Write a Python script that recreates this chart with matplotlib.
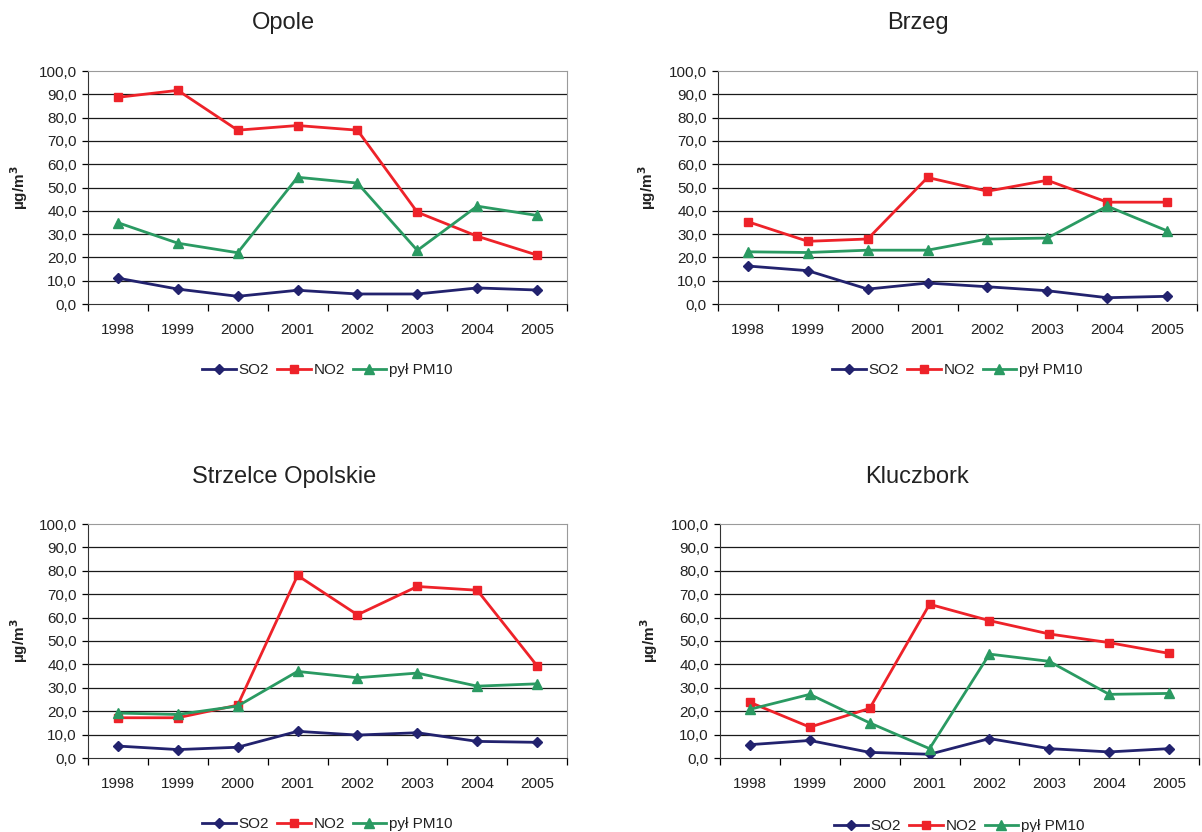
import numpy as np
import matplotlib
matplotlib.use("Agg")
import matplotlib.pyplot as plt
from matplotlib.ticker import FuncFormatter

plt.rcParams['font.family'] = ['Liberation Sans', 'DejaVu Sans']

years = ['1998', '1999', '2000', '2001', '2002', '2003', '2004', '2005']
series_names = ['SO2', 'NO2', 'pył PM10']

# Opole
opole_so2 = [11.1, 6.4, 3.3, 5.9, 4.3, 4.3, 6.9, 6.0]
opole_no2 = [88.7, 91.7, 74.6, 76.6, 74.6, 39.4, 29.1, 21.0]
opole_pm10 = [34.9, 26.1, 22.0, 54.4, 51.9, 23.0, 42.0, 38.0]

# Brzeg
brzeg_so2 = [16.3, 14.3, 6.4, 9.0, 7.4, 5.7, 2.7, 3.3]
brzeg_no2 = [35.3, 26.9, 27.9, 54.3, 48.4, 53.1, 43.7, 43.7]
brzeg_pm10 = [22.4, 22.1, 23.1, 23.1, 27.9, 28.3, 42.0, 31.4]

# Strzelce Opolskie
strzelce_so2 = [5.1, 3.6, 4.6, 11.4, 9.8, 10.8, 7.1, 6.7]
strzelce_no2 = [17.2, 17.2, 22.6, 78.0, 61.2, 73.3, 71.7, 39.4]
strzelce_pm10 = [19.2, 18.6, 22.2, 37.0, 34.3, 36.3, 30.7, 31.7]

# Kluczbork
kluczbork_so2 = [5.7, 7.5, 2.4, 1.6, 8.3, 4.0, 2.6, 4.0]
kluczbork_no2 = [23.8, 13.2, 21.2, 65.7, 58.7, 53.0, 49.3, 44.7]
kluczbork_pm10 = [20.8, 27.2, 15.0, 4.0, 44.4, 41.3, 27.2, 27.6]

panels = [
    ('Opole', [opole_so2, opole_no2, opole_pm10]),
    ('Brzeg', [brzeg_so2, brzeg_no2, brzeg_pm10]),
    ('Strzelce Opolskie', [strzelce_so2, strzelce_no2, strzelce_pm10]),
    ('Kluczbork', [kluczbork_so2, kluczbork_no2, kluczbork_pm10]),
]

colors = ['#22226e', '#ee2229', '#2a9a62']
markers = ['D', 's', '^']
msizes = [5, 6, 7]

W, H = 1202, 832
fig = plt.figure(figsize=(W / 100, H / 100), dpi=100)

# axes boxes in pixels: left, top, right, bottom
boxes = [
    (88, 71, 567, 304),
    (718, 71, 1197, 304),
    (88, 524, 567, 758),
    (720, 524, 1199, 758),
]
# title centre, y-label x, legend y (pixels)
title_pos = [(283, 23), (918, 23), (284, 477), (917, 477)]
ylabel_x = [19, 647, 19, 649]
legend_y = [370, 370, 824, 826]

x = np.arange(len(years))
for i, ((title, data), (l, t, r, b)) in enumerate(zip(panels, boxes)):
    ax = fig.add_axes([l / W, 1 - b / H, (r - l) / W, (b - t) / H])
    for vals, name, c, m, ms in zip(data, series_names, colors, markers, msizes):
        ax.plot(x, vals, color=c, marker=m, markersize=ms, linewidth=2,
                label=name, zorder=3)
    ax.set_xlim(-0.5, len(years) - 0.5)
    ax.set_ylim(0, 100)
    ax.set_yticks(np.arange(0, 101, 10))
    ax.yaxis.set_major_formatter(FuncFormatter(lambda v, p: f'{v:.1f}'.replace('.', ',')))
    for yv in range(10, 100, 10):
        ax.axhline(yv, color='#1a1a1a', linewidth=0.9, zorder=1)
    ax.set_xticks(x)
    ax.set_xticklabels(years)
    ax.set_xticks(np.arange(-0.5, len(years), 1), minor=True)
    ax.tick_params(axis='x', which='major', length=0, pad=14, labelsize=11,
                   labelcolor='#222222')
    ax.tick_params(axis='x', which='minor', length=5, width=0.9, direction='out')
    ax.tick_params(axis='y', length=4, width=0.9, labelsize=11, pad=4,
                   labelcolor='#222222')
    ax.spines['left'].set_color('#333333')
    ax.spines['bottom'].set_color('#333333')
    ax.spines['top'].set_color('#9a9a9a')
    ax.spines['right'].set_color('#9a9a9a')

    tx, ty = title_pos[i]
    fig.text(tx / W, 1 - ty / H, title, fontsize=17, ha='center', va='center',
             color='#222222')
    fig.text(ylabel_x[i] / W, 1 - ((t + b) / 2) / H, 'µg/m$^\\mathbf{3}$',
             fontsize=11, fontweight='bold', rotation=90, ha='center', va='center',
             color='#222222')
    ax.legend(loc='center', bbox_to_anchor=(0.5, -(legend_y[i] - b) / (b - t)),
              ncol=3, frameon=False, fontsize=11, handlelength=2.2,
              handletextpad=0.2, columnspacing=0.5, numpoints=1,
              labelcolor='#222222')

fig.savefig('out.png', dpi=100)
